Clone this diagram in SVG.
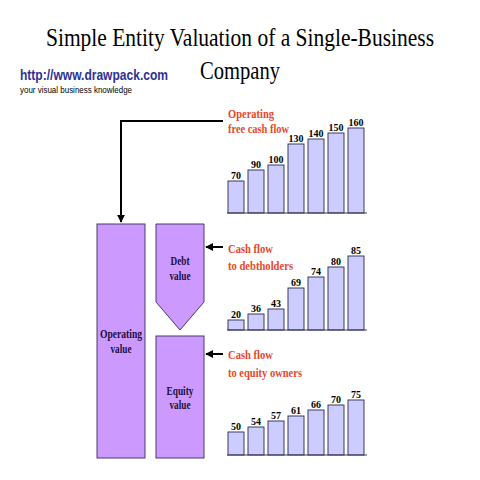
<svg xmlns="http://www.w3.org/2000/svg" width="480" height="480" viewBox="0 0 480 480">
<style>
.title{font-family:"Liberation Serif",serif;font-size:25px;fill:#000;text-anchor:middle}
.url{font-family:"Liberation Sans",Arial,sans-serif;font-weight:bold;font-size:14px;fill:#2e3192}
.tag{font-family:"Liberation Sans",Arial,sans-serif;font-size:9.5px;fill:#000}
.red{font-family:"Liberation Serif",serif;font-weight:bold;font-size:13px;fill:#e8472a}
.node{fill:#cc99ff;stroke:#4a3a66;stroke-width:1}
.nlab{font-family:"Liberation Serif",serif;font-weight:bold;font-size:12.5px;fill:#1a1040;text-anchor:middle}
.bar{fill:#ccccff;stroke:#3a3a5a;stroke-width:1}
.axis{stroke:#3a3a5a;stroke-width:1.2}
.num{font-family:"Liberation Serif",serif;font-weight:bold;font-size:10px;fill:#000;text-anchor:middle}
.conn{stroke:#000;stroke-width:2;fill:none}
</style>
<defs>
<marker id="ah" viewBox="0 0 10 10" refX="9" refY="5" markerWidth="4" markerHeight="4" orient="auto"><path d="M0,0 L10,5 L0,10 z" fill="#000"/></marker>
</defs>
<rect width="480" height="480" fill="#fff"/>
<text class="title" x="240" y="46" textLength="388" lengthAdjust="spacingAndGlyphs">Simple Entity Valuation of a Single-Business</text>
<text class="title" x="240" y="79" textLength="80" lengthAdjust="spacingAndGlyphs">Company</text>
<text class="url" x="20" y="80" textLength="148" lengthAdjust="spacingAndGlyphs">http://www.drawpack.com</text>
<text class="tag" x="20" y="93" textLength="112" lengthAdjust="spacingAndGlyphs">your visual business knowledge</text>

<g id="connectors">
<polyline class="conn" points="223,121 121,121 121,222" marker-end="url(#ah)"/>
<line class="conn" x1="223" y1="247" x2="206" y2="247" marker-end="url(#ah)"/>
<line class="conn" x1="223" y1="354" x2="206" y2="354" marker-end="url(#ah)"/>
</g>

<g id="operating-value">
<rect class="node" x="97" y="224" width="48" height="234"/>
<text class="nlab" x="121" y="338" textLength="42" lengthAdjust="spacingAndGlyphs">Operating</text>
<text class="nlab" x="121" y="353" textLength="21" lengthAdjust="spacingAndGlyphs">value</text>
</g>
<g id="debt-value">
<polygon class="node" points="156,224 204,224 204,302 180,330 156,302"/>
<text class="nlab" x="180" y="265" textLength="19" lengthAdjust="spacingAndGlyphs">Debt</text>
<text class="nlab" x="180" y="280" textLength="21" lengthAdjust="spacingAndGlyphs">value</text>
</g>
<g id="equity-value">
<rect class="node" x="156" y="336" width="48" height="122"/>
<text class="nlab" x="180" y="395" textLength="27" lengthAdjust="spacingAndGlyphs">Equity</text>
<text class="nlab" x="180" y="409" textLength="21" lengthAdjust="spacingAndGlyphs">value</text>
</g>

<g id="chart-fcf">
<text class="red" x="228" y="118" textLength="46" lengthAdjust="spacingAndGlyphs">Operating</text>
<text class="red" x="228" y="133" textLength="61" lengthAdjust="spacingAndGlyphs">free cash flow</text>
<rect class="bar" x="228" y="181" width="16" height="32"/>
<rect class="bar" x="248" y="170" width="16" height="43"/>
<rect class="bar" x="268" y="165" width="16" height="48"/>
<rect class="bar" x="288" y="144" width="16" height="69"/>
<rect class="bar" x="308" y="139" width="16" height="74"/>
<rect class="bar" x="328" y="133" width="16" height="80"/>
<rect class="bar" x="348" y="128" width="16" height="85"/>
<line class="axis" x1="227" y1="213" x2="367" y2="213"/>
<text class="num" x="236" y="179">70</text>
<text class="num" x="256" y="168">90</text>
<text class="num" x="276" y="163">100</text>
<text class="num" x="296" y="142">130</text>
<text class="num" x="316" y="137">140</text>
<text class="num" x="336" y="131">150</text>
<text class="num" x="356" y="126">160</text>
</g>

<g id="chart-debt">
<text class="red" x="228" y="253" textLength="45" lengthAdjust="spacingAndGlyphs">Cash flow</text>
<text class="red" x="228" y="270" textLength="65" lengthAdjust="spacingAndGlyphs">to debtholders</text>
<rect class="bar" x="228" y="320" width="16" height="10"/>
<rect class="bar" x="248" y="314" width="16" height="16"/>
<rect class="bar" x="268" y="309" width="16" height="21"/>
<rect class="bar" x="288" y="288" width="16" height="42"/>
<rect class="bar" x="308" y="277" width="16" height="53"/>
<rect class="bar" x="328" y="267" width="16" height="63"/>
<rect class="bar" x="348" y="256" width="16" height="74"/>
<line class="axis" x1="227" y1="330" x2="367" y2="330"/>
<text class="num" x="236" y="318">20</text>
<text class="num" x="256" y="312">36</text>
<text class="num" x="276" y="307">43</text>
<text class="num" x="296" y="286">69</text>
<text class="num" x="316" y="275">74</text>
<text class="num" x="336" y="265">80</text>
<text class="num" x="356" y="254">85</text>
</g>

<g id="chart-equity">
<text class="red" x="228" y="359" textLength="45" lengthAdjust="spacingAndGlyphs">Cash flow</text>
<text class="red" x="228" y="377" textLength="74" lengthAdjust="spacingAndGlyphs">to equity owners</text>
<rect class="bar" x="228" y="432" width="16" height="23"/>
<rect class="bar" x="248" y="427" width="16" height="28"/>
<rect class="bar" x="268" y="421" width="16" height="34"/>
<rect class="bar" x="288" y="416" width="16" height="39"/>
<rect class="bar" x="308" y="410" width="16" height="45"/>
<rect class="bar" x="328" y="405" width="16" height="50"/>
<rect class="bar" x="348" y="400" width="16" height="55"/>
<line class="axis" x1="227" y1="455" x2="367" y2="455"/>
<text class="num" x="236" y="430">50</text>
<text class="num" x="256" y="425">54</text>
<text class="num" x="276" y="419">57</text>
<text class="num" x="296" y="414">61</text>
<text class="num" x="316" y="408">66</text>
<text class="num" x="336" y="403">70</text>
<text class="num" x="356" y="398">75</text>
</g>
</svg>
